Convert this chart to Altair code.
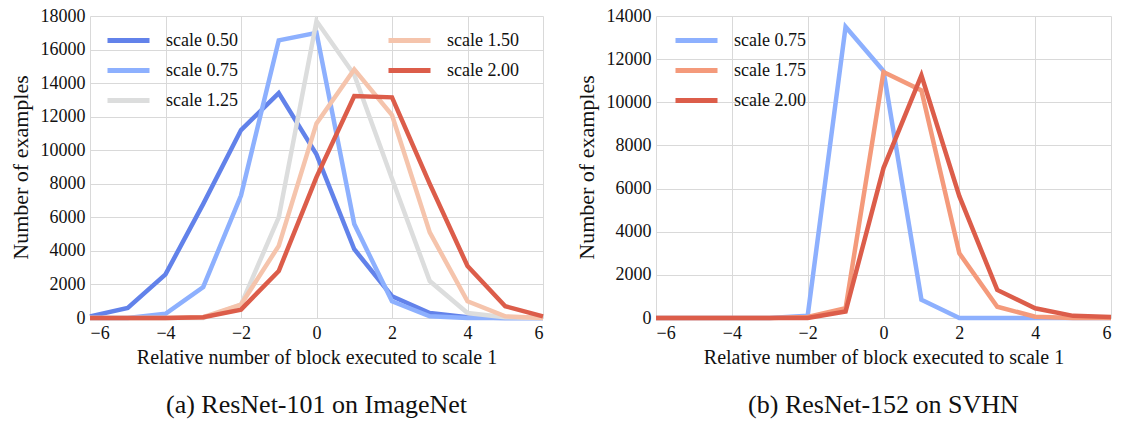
import altair as alt
import pandas as pd

# ---- data ----
x_vals = [-6, -5, -4, -3, -2, -1, 0, 1, 2, 3, 4, 5, 6]

# (a) ResNet-101 on ImageNet
a_s050 = [100, 600, 2600, 6800, 11200, 13400, 9750, 4100, 1300, 300, 50, 0, 0]
a_s075 = [0, 0, 250, 1850, 7300, 16550, 17000, 5600, 1000, 100, 0, 0, 0]
a_s125 = [0, 0, 0, 0, 800, 6000, 17700, 14500, 8300, 2200, 300, 50, 0]
a_s150 = [0, 0, 0, 50, 800, 4300, 11600, 14820, 12100, 5100, 1000, 100, 0]
a_s200 = [0, 0, 0, 50, 500, 2800, 8400, 13230, 13150, 8000, 3100, 700, 100]

# (b) ResNet-152 on SVHN
b_s075 = [0, 0, 0, 0, 100, 13500, 11450, 850, 0, 0, 0, 0, 0]
b_s175 = [0, 0, 0, 0, 50, 450, 11400, 10550, 3000, 520, 60, 0, 0]
b_s200 = [0, 0, 0, 0, 0, 300, 6950, 11250, 5650, 1300, 450, 100, 50]

a_group1 = ["scale 0.50", "scale 0.75", "scale 1.25"]
a_group1_colors = ["#6282ea", "#8db0fe", "#dcdddd"]
a_group2 = ["scale 1.50", "scale 2.00"]
a_group2_colors = ["#f5c4ac", "#dc5d4a"]
b_group = ["scale 0.75", "scale 1.75", "scale 2.00"]
b_group_colors = ["#8db0fe", "#f49a7b", "#dc5d4a"]

x_ticks = [-6, -4, -2, 0, 2, 4, 6]
a_yticks = [0, 2000, 4000, 6000, 8000, 10000, 12000, 14000, 16000, 18000]
b_yticks = [0, 2000, 4000, 6000, 8000, 10000, 12000, 14000]

XTITLE = "Relative number of block executed to scale 1"
YTITLE = "Number of examples"
CAP_A = "(a) ResNet-101 on ImageNet"
CAP_B = "(b) ResNet-152 on SVHN"

FONT = "Liberation Serif"
GRID = "#d9d9d9"
LW = 4.5
TXT = "#111111"


def long(names, series, tag):
    rows = []
    for n, s in zip(names, series):
        for xv, yv in zip(x_vals, s):
            rows.append({"x": xv, "y": yv, tag: n})
    return pd.DataFrame(rows)


df_a1 = long(a_group1, [a_s050, a_s075, a_s125], "sa1")
df_a2 = long(a_group2, [a_s150, a_s200], "sa2")
df_b = long(b_group, [b_s075, b_s175, b_s200], "sb")


def x_enc():
    return alt.X(
        "x:Q",
        scale=alt.Scale(domain=[-6, 6], nice=False, zero=False),
        axis=alt.Axis(values=x_ticks, title=XTITLE, labelPadding=6,
                      titlePadding=5, labelFont=FONT, titleFont=FONT,
                      labelFontSize=18, titleFontSize=20),
    )


def y_enc(top, ticks):
    return alt.Y(
        "y:Q",
        scale=alt.Scale(domain=[0, top], nice=False),
        axis=alt.Axis(values=ticks, format="d", title=YTITLE,
                      labelPadding=5, titlePadding=8, titleFontSize=22,
                      labelFontSize=18, labelFont=FONT, titleFont=FONT),
    )


def legend(lx, ly):
    return alt.Legend(
        title=None, orient="none", legendX=lx, legendY=ly,
        symbolType="M-3,0H3", symbolSize=196, symbolStrokeWidth=5,
        labelFontSize=18, labelOffset=28, rowPadding=9, padding=0,
        labelFont=FONT,
    )


def lines(df, tag, names, colors, lx, ly, top, ticks):
    return alt.Chart(df).mark_line(strokeWidth=LW, strokeCap="butt").encode(
        x=x_enc(),
        y=y_enc(top, ticks),
        color=alt.Color(
            f"{tag}:N",
            scale=alt.Scale(domain=names, range=colors),
            legend=legend(lx, ly),
        ),
        order=alt.Order("x:Q"),
    )


left = alt.layer(
    lines(df_a1, "sa1", a_group1, a_group1_colors, 29, 15, 18000, a_yticks),
    lines(df_a2, "sa2", a_group2, a_group2_colors, 310, 15, 18000, a_yticks),
).resolve_scale(color="independent").resolve_legend(color="independent").properties(
    width=453, height=302,
    title=alt.TitleParams(CAP_A, orient="bottom", anchor="middle",
                          fontSize=26, offset=25, font=FONT),
)

right = lines(df_b, "sb", b_group, b_group_colors, 31, 15, 14000, b_yticks).properties(
    width=455, height=302,
    title=alt.TitleParams(CAP_B, orient="bottom", anchor="middle",
                          fontSize=26, offset=25, font=FONT),
)

chart = alt.hconcat(left, right, spacing=113, bounds="flush").resolve_scale(
    color="independent"
).resolve_legend(color="independent").properties(
    padding={"left": 9, "top": 7, "right": 2, "bottom": 2},
).configure(
    background="white", font=FONT,
).configure_view(
    stroke=None
).configure_axis(
    titleFontWeight="normal", labelColor=TXT, titleColor=TXT,
    grid=True, gridColor=GRID, domain=False, ticks=False,
).configure_legend(
    labelColor=TXT, labelFont=FONT,
).configure_title(
    font=FONT, fontWeight="normal", color=TXT,
)

chart.save("out.html", embed_options={"renderer": "svg", "actions": False})
